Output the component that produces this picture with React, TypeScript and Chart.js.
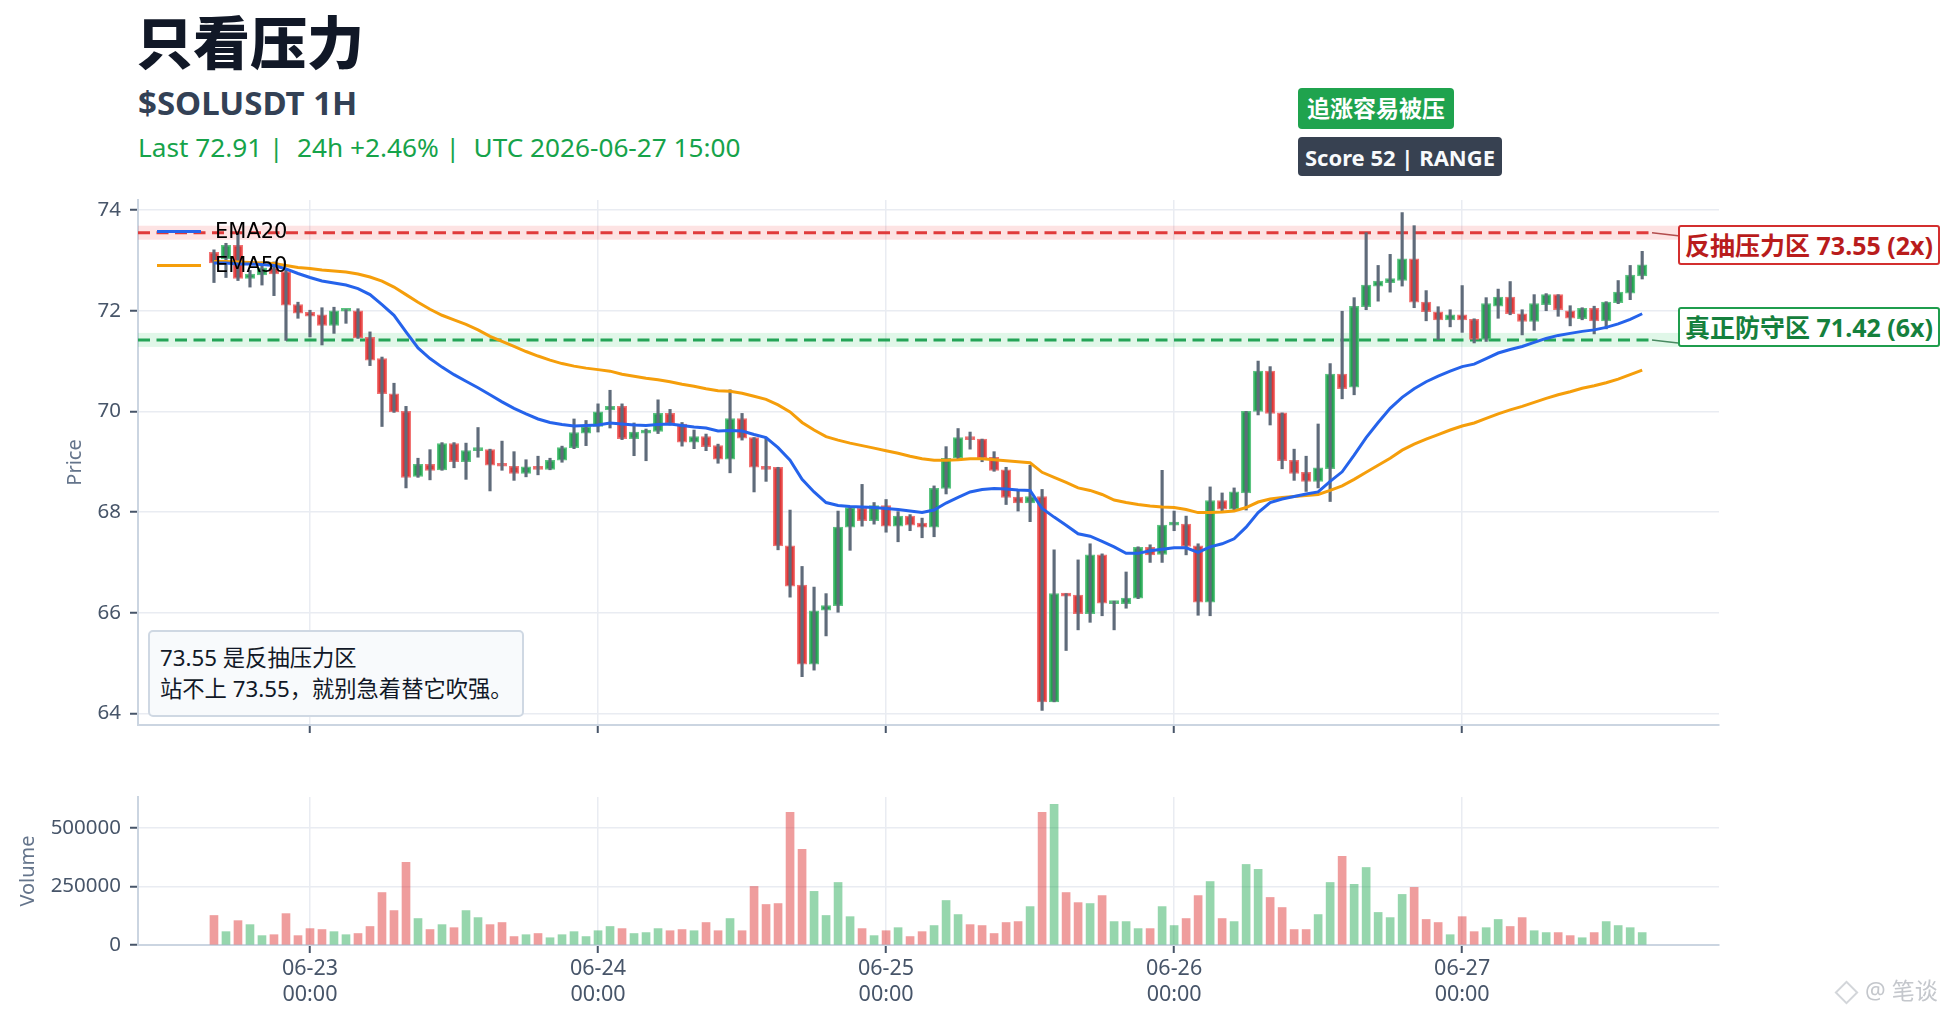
import React, { useEffect, useRef } from 'react';
import { Chart, registerables } from 'chart.js';

Chart.register(...registerables);

// ---------- data (hourly candles 06-22 16:00 .. 06-27 15:00) ----------
const OPEN = [
  73.16, 73.03, 73.30, 72.64, 72.71, 72.85, 72.78, 72.12, 71.97, 71.92,
  71.71, 71.99, 72.00, 71.47, 71.05, 70.35, 70.00, 68.71, 68.95, 68.84,
  69.36, 69.00, 69.22, 69.24, 68.95, 68.91, 68.77, 68.90, 68.85, 69.03,
  69.28, 69.57, 69.70, 70.03, 70.10, 69.46, 69.57, 69.60, 69.96, 69.75,
  69.39, 69.50, 69.32, 69.05, 69.86, 69.48, 68.89, 68.89, 67.33, 66.55,
  64.98, 66.05, 66.14, 67.70, 68.08, 67.83, 68.13, 67.72, 67.92, 67.78,
  67.70, 68.47, 69.07, 69.50, 69.45, 69.09, 68.84, 68.30, 68.18, 68.31,
  64.23, 66.38, 66.35, 65.98, 67.15, 66.18, 66.18, 66.29, 67.30, 67.16,
  67.74, 67.76, 67.33, 66.21, 68.23, 68.06, 68.38, 70.00, 70.80, 69.97,
  69.03, 68.79, 68.61, 68.86, 70.74, 70.48, 72.08, 72.49, 72.56, 72.60,
  73.03, 72.17, 71.98, 71.82, 71.92, 71.83, 71.43, 72.09, 72.27, 71.94,
  71.79, 72.12, 72.32, 72.00, 71.84, 72.05, 71.80, 72.16, 72.35, 72.69,
];
const HIGH = [
  73.21, 73.34, 73.53, 72.80, 72.97, 72.97, 72.84, 72.17, 72.01, 72.06,
  72.07, 72.02, 72.04, 71.58, 71.08, 70.56, 70.10, 69.07, 69.24, 69.38,
  69.38, 69.37, 69.68, 69.25, 69.41, 69.20, 69.04, 69.11, 69.07, 69.31,
  69.85, 69.82, 70.15, 70.42, 70.15, 69.77, 69.65, 70.23, 70.04, 69.78,
  69.63, 69.55, 69.35, 70.43, 69.96, 69.48, 69.47, 68.89, 68.04, 66.92,
  66.51, 66.38, 68.02, 68.11, 68.55, 68.19, 68.25, 68.01, 67.95, 67.88,
  68.52, 69.30, 69.66, 69.59, 69.45, 69.20, 68.89, 68.42, 68.93, 68.45,
  67.25, 66.38, 67.05, 67.37, 67.17, 66.23, 66.81, 67.31, 67.35, 68.83,
  68.02, 67.92, 67.37, 68.50, 68.38, 68.48, 70.00, 71.00, 70.89, 69.97,
  69.25, 69.11, 69.75, 70.95, 71.99, 72.26, 73.55, 72.90, 73.12, 73.95,
  73.69, 72.40, 72.08, 72.02, 72.50, 71.84, 72.26, 72.43, 72.58, 72.02,
  72.32, 72.34, 72.32, 72.10, 72.06, 72.09, 72.18, 72.60, 72.90, 73.18,
];
const LOW = [
  72.56, 72.66, 72.60, 72.47, 72.51, 72.30, 71.41, 71.85, 71.48, 71.32,
  71.55, 71.75, 71.45, 70.91, 69.70, 69.98, 68.48, 68.69, 68.64, 68.83,
  68.88, 68.65, 69.09, 68.42, 68.83, 68.63, 68.70, 68.74, 68.84, 68.99,
  69.26, 69.32, 69.59, 69.67, 69.44, 69.12, 69.02, 69.56, 69.73, 69.31,
  69.26, 69.22, 68.97, 68.78, 69.43, 68.40, 68.61, 67.25, 66.31, 64.73,
  64.86, 65.54, 66.01, 67.24, 67.72, 67.76, 67.60, 67.41, 67.63, 67.49,
  67.51, 68.36, 69.05, 69.25, 69.00, 68.81, 68.15, 68.02, 67.81, 64.06,
  64.23, 65.25, 65.66, 65.81, 65.94, 65.66, 66.09, 66.28, 67.00, 67.00,
  67.63, 67.15, 65.95, 65.94, 68.02, 68.04, 68.04, 69.93, 69.73, 68.86,
  68.63, 68.41, 68.48, 68.21, 70.25, 70.33, 72.02, 72.19, 72.37, 72.49,
  72.06, 71.80, 71.43, 71.68, 71.57, 71.36, 71.39, 71.85, 71.92, 71.52,
  71.61, 72.00, 71.89, 71.70, 71.82, 71.54, 71.64, 72.14, 72.22, 72.63,
];
const CLOSE = [
  72.95, 73.30, 72.64, 72.73, 72.85, 72.73, 72.11, 71.95, 71.89, 71.71,
  72.00, 72.01, 71.46, 71.02, 70.35, 69.99, 68.69, 68.95, 68.83, 69.36,
  69.00, 69.22, 69.24, 68.93, 68.91, 68.77, 68.90, 68.85, 69.03, 69.28,
  69.58, 69.70, 69.99, 70.10, 69.46, 69.59, 69.61, 69.96, 69.75, 69.39,
  69.50, 69.30, 69.05, 69.86, 69.47, 68.89, 68.85, 67.33, 66.53, 64.98,
  66.04, 66.14, 67.70, 68.09, 67.83, 68.13, 67.72, 67.92, 67.74, 67.70,
  68.47, 69.07, 69.48, 69.44, 69.07, 68.83, 68.29, 68.18, 68.31, 64.23,
  66.38, 66.33, 65.98, 67.15, 66.19, 66.22, 66.29, 67.30, 67.15, 67.74,
  67.77, 67.32, 66.21, 68.23, 68.06, 68.40, 70.00, 70.80, 69.96, 69.02,
  68.77, 68.61, 68.88, 70.74, 70.45, 72.09, 72.51, 72.59, 72.64, 73.03,
  72.17, 71.98, 71.82, 71.92, 71.82, 71.43, 72.14, 72.27, 71.94, 71.79,
  72.14, 72.32, 72.02, 71.85, 72.05, 71.80, 72.17, 72.37, 72.71, 72.91,
];
const VOLUME = [
  126000, 57000, 104000, 87000, 40000, 44000, 134000, 40000, 70000, 66000,
  57000, 44000, 49000, 79000, 224000, 147000, 353000, 113000, 66000, 87000,
  74000, 147000, 117000, 87000, 96000, 36000, 44000, 49000, 31000, 44000,
  57000, 36000, 61000, 79000, 70000, 49000, 53000, 70000, 61000, 66000,
  61000, 96000, 61000, 113000, 61000, 250000, 173000, 177000, 567000, 409000,
  229000, 126000, 267000, 121000, 70000, 40000, 61000, 74000, 36000, 57000,
  83000, 190000, 130000, 87000, 83000, 49000, 96000, 100000, 164000, 567000,
  601000, 224000, 181000, 177000, 211000, 100000, 100000, 70000, 70000, 164000,
  83000, 113000, 211000, 271000, 113000, 100000, 344000, 323000, 203000, 160000,
  66000, 66000, 130000, 267000, 379000, 259000, 331000, 139000, 117000, 216000,
  246000, 109000, 96000, 44000, 121000, 57000, 74000, 109000, 79000, 117000,
  61000, 53000, 53000, 40000, 31000, 53000, 100000, 83000, 74000, 53000,
];
const EMA20 = [
  72.95, 72.95, 72.93, 72.93, 72.92, 72.90, 72.83, 72.74, 72.66, 72.59,
  72.55, 72.51, 72.44, 72.32, 72.12, 71.91, 71.58, 71.26, 71.05, 70.88,
  70.73, 70.60, 70.47, 70.33, 70.19, 70.06, 69.95, 69.85, 69.78, 69.74,
  69.71, 69.72, 69.73, 69.77, 69.75, 69.73, 69.72, 69.74, 69.75, 69.72,
  69.69, 69.67, 69.61, 69.62, 69.61, 69.54, 69.48, 69.28, 69.03, 68.65,
  68.40, 68.19, 68.13, 68.11, 68.10, 68.09, 68.07, 68.05, 68.02, 67.99,
  68.04, 68.18, 68.29, 68.40, 68.45, 68.47, 68.46, 68.44, 68.43, 68.07,
  67.90, 67.74, 67.57, 67.52, 67.42, 67.31, 67.18, 67.18, 67.23, 67.26,
  67.29, 67.29, 67.20, 67.31, 67.37, 67.47, 67.70, 67.99, 68.19, 68.26,
  68.31, 68.36, 68.40, 68.61, 68.80, 69.13, 69.48, 69.78, 70.06, 70.28,
  70.45, 70.59, 70.70, 70.80, 70.89, 70.94, 71.05, 71.16, 71.23, 71.29,
  71.37, 71.45, 71.51, 71.55, 71.59, 71.62, 71.67, 71.74, 71.83, 71.94,
];
const EMA50 = [
  72.98, 72.98, 72.97, 72.96, 72.95, 72.94, 72.90, 72.86, 72.84, 72.81,
  72.79, 72.77, 72.73, 72.67, 72.59, 72.47, 72.32, 72.17, 72.03, 71.91,
  71.82, 71.73, 71.62, 71.49, 71.39, 71.29, 71.19, 71.10, 71.02, 70.95,
  70.90, 70.86, 70.83, 70.80, 70.74, 70.70, 70.66, 70.63, 70.59, 70.54,
  70.50, 70.45, 70.41, 70.40, 70.36, 70.30, 70.24, 70.13, 69.99, 69.78,
  69.63, 69.50, 69.43, 69.37, 69.32, 69.27, 69.22, 69.17, 69.11, 69.06,
  69.03, 69.03, 69.04, 69.06, 69.06, 69.04, 69.02, 69.00, 68.98, 68.79,
  68.69, 68.59, 68.48, 68.43, 68.35, 68.24, 68.19, 68.15, 68.12, 68.10,
  68.09, 68.05, 67.99, 67.99, 68.00, 68.02, 68.09, 68.20, 68.26, 68.29,
  68.31, 68.33, 68.35, 68.43, 68.52, 68.65, 68.79, 68.93, 69.07, 69.23,
  69.35, 69.45, 69.54, 69.63, 69.71, 69.77, 69.86, 69.95, 70.03, 70.10,
  70.18, 70.26, 70.33, 70.39, 70.46, 70.51, 70.57, 70.64, 70.73, 70.82,
];
const DAY_TICK_INDEX = [8, 32, 56, 80, 104];
const DAY_LABELS = ['06-23', '06-24', '06-25', '06-26', '06-27'];
const DAY_TIME = '00:00';
const PRICE_TICKS = [64, 66, 68, 70, 72, 74];
const VOLUME_TICKS = [0, 250000, 500000];
const RESISTANCE = 73.55;
const SUPPORT = 71.42;

const FONT = '"Noto Sans", "Noto Sans CJK SC", sans-serif';
const X_MIN = -6.33;
const X_MAX = 125.4;

const GRID = { color: '#e9ecf2', lineWidth: 1.5, tickLength: 8, tickColor: '#475569', tickWidth: 2, offset: false };
const BORDER = { display: true, color: '#cbd5e1', width: 2 };
const Y_TICK_FONT = { size: 20.5, family: FONT };
const X_TICK_FONT = { size: 21.5, family: FONT };

function xScale(showLabels: boolean, height: number): any {
  return {
    type: 'linear',
    min: X_MIN,
    max: X_MAX,
    offset: false,
    afterBuildTicks: (axis: any) => {
      axis.ticks = DAY_TICK_INDEX.map((v) => ({ value: v }));
    },
    afterFit: (axis: any) => {
      axis.height = height;
      axis.paddingLeft = 0;
      axis.paddingRight = 0;
    },
    ticks: {
      autoSkip: false,
      maxRotation: 0,
      minRotation: 0,
      padding: 3,
      color: '#475569',
      font: X_TICK_FONT,
      callback: (v: any) => {
        if (!showLabels) return '';
        const k = DAY_TICK_INDEX.indexOf(Number(v));
        return k >= 0 ? [DAY_LABELS[k], DAY_TIME] : '';
      },
    },
    grid: GRID,
    border: BORDER,
  };
}

function yFit(axis: any) {
  axis.width = 138;
  axis.paddingTop = 0;
  axis.paddingBottom = 0;
}

const levelsPlugin = {
  id: 'levels',
  beforeDatasetsDraw(chart: any) {
    const { ctx, chartArea, scales } = chart;
    const levels = [
      { v: RESISTANCE, line: '#e03b3b', band: 'rgba(239,68,68,0.15)', conn: 'rgba(153,27,27,0.75)' },
      { v: SUPPORT, line: '#24a457', band: 'rgba(34,197,94,0.14)', conn: 'rgba(21,101,52,0.75)' },
    ];
    ctx.save();
    levels.forEach((l) => {
      const y = scales.y.getPixelForValue(l.v);
      ctx.fillStyle = l.band;
      ctx.fillRect(chartArea.left, y - 7, 1678 - chartArea.left, 14);
      ctx.setLineDash([12, 6.5]);
      ctx.strokeStyle = l.line;
      ctx.lineWidth = 3;
      ctx.beginPath();
      ctx.moveTo(chartArea.left, y);
      ctx.lineTo(1652, y);
      ctx.stroke();
      ctx.setLineDash([]);
      ctx.strokeStyle = l.conn;
      ctx.lineWidth = 1.5;
      ctx.beginPath();
      ctx.moveTo(1652, y);
      ctx.lineTo(1678, y + 3);
      ctx.stroke();
    });
    ctx.restore();
  },
};

export default function App() {
  const priceRef = useRef<HTMLCanvasElement>(null);
  const volRef = useRef<HTMLCanvasElement>(null);

  useEffect(() => {
    Chart.defaults.font.family = FONT;
    const idx = CLOSE.map((_, i) => i);
    const up = idx.map((i) => CLOSE[i] >= OPEN[i]);

    const priceChart = new Chart(priceRef.current as HTMLCanvasElement, {
      type: 'bar',
      data: {
        datasets: [
          {
            type: 'line',
            label: 'EMA20',
            data: idx.map((i) => ({ x: i, y: EMA20[i] })),
            borderColor: '#2563eb',
            borderWidth: 3,
            pointRadius: 0,
            tension: 0,
            order: 0,
          } as any,
          {
            type: 'line',
            label: 'EMA50',
            data: idx.map((i) => ({ x: i, y: EMA50[i] })),
            borderColor: '#f59e0b',
            borderWidth: 3,
            pointRadius: 0,
            tension: 0,
            order: 1,
          } as any,
          {
            type: 'bar',
            label: 'wick',
            data: idx.map((i) => ({ x: i, y: [LOW[i], HIGH[i]] })),
            backgroundColor: '#5f6b7a',
            barThickness: 2.5,
            grouped: false,
            order: 2,
          } as any,
          {
            type: 'bar',
            label: 'body',
            data: idx.map((i) => ({ x: i, y: [OPEN[i], CLOSE[i]] })),
            backgroundColor: idx.map((i) => (up[i] ? '#22a24f' : '#de3636')),
            borderColor: idx.map((i) => (up[i] ? 'rgba(74,190,115,0.9)' : 'rgba(240,100,100,0.9)')),
            borderWidth: 1.5,
            borderSkipped: false,
            minBarLength: 3,
            barThickness: 9.5,
            grouped: false,
            order: 3,
          } as any,
        ],
      },
      options: {
        responsive: false,
        animation: false,
        events: [],
        layout: { padding: { left: 0, right: 231, top: 10, bottom: 0 } },
        plugins: { legend: { display: false }, tooltip: { enabled: false } },
        scales: {
          x: xScale(false, 25),
          y: {
            type: 'linear',
            min: 63.77,
            max: 74.2,
            afterBuildTicks: (axis: any) => {
              axis.ticks = PRICE_TICKS.map((v) => ({ value: v }));
            },
            afterFit: yFit,
            ticks: { padding: 9, color: '#475569', font: Y_TICK_FONT },
            grid: GRID,
            border: BORDER,
            title: {
              display: true,
              text: 'Price',
              color: '#64748b',
              font: { size: 20, family: FONT },
              padding: { top: 63, bottom: 0 },
            },
          } as any,
        },
      },
      plugins: [levelsPlugin],
    });

    const volChart = new Chart(volRef.current as HTMLCanvasElement, {
      type: 'bar',
      data: {
        datasets: [
          {
            label: 'Volume',
            data: idx.map((i) => ({ x: i, y: VOLUME[i] })),
            backgroundColor: idx.map((i) => (up[i] ? 'rgba(22,163,74,0.45)' : 'rgba(220,38,38,0.45)')),
            barThickness: 8,
            borderWidth: 0,
          } as any,
        ],
      },
      options: {
        responsive: false,
        animation: false,
        events: [],
        layout: { padding: { left: 0, right: 231, top: 17, bottom: 0 } },
        plugins: { legend: { display: false }, tooltip: { enabled: false } },
        scales: {
          x: xScale(true, 76),
          y: {
            type: 'linear',
            min: 0,
            max: 632000,
            afterBuildTicks: (axis: any) => {
              axis.ticks = VOLUME_TICKS.map((v) => ({ value: v }));
            },
            afterFit: yFit,
            ticks: { padding: 9, color: '#475569', font: Y_TICK_FONT, callback: (v: any) => String(v) },
            grid: GRID,
            border: BORDER,
            title: {
              display: true,
              text: 'Volume',
              color: '#64748b',
              font: { size: 20, family: FONT },
              padding: { top: 16, bottom: 0 },
            },
          } as any,
        },
      },
    });

    return () => {
      priceChart.destroy();
      volChart.destroy();
    };
  }, []);

  const abs = (s: React.CSSProperties): React.CSSProperties => ({
    position: 'absolute',
    whiteSpace: 'pre',
    lineHeight: 1,
    fontFamily: FONT,
    ...s,
  });

  return (
    <div
      style={{
        position: 'absolute',
        left: 0,
        top: 0,
        width: 1950,
        height: 1021,
        background: '#ffffff',
        overflow: 'hidden',
      }}
    >
      <canvas
        ref={priceRef}
        width={1950}
        height={560}
        style={{ position: 'absolute', left: 0, top: 190, width: 1950, height: 560 }}
      />
      <canvas
        ref={volRef}
        width={1950}
        height={241}
        style={{ position: 'absolute', left: 0, top: 780, width: 1950, height: 241 }}
      />

      {/* header */}
      <div style={abs({ left: 136, top: 14, fontSize: 57, fontWeight: 900, color: '#111827' })}>只看压力</div>
      <div style={abs({ left: 138, top: 86, fontSize: 33, fontWeight: 700, color: '#334155' })}>$SOLUSDT 1H</div>
      <div style={abs({ left: 138, top: 134, fontSize: 26.2, color: '#16a34a' })}>
        {'Last 72.91 |  24h +2.46% |  UTC 2026-06-27 15:00'}
      </div>

      {/* badges */}
      <div
        style={abs({
          left: 1298,
          top: 88,
          width: 156,
          height: 41,
          background: '#1fa34e',
          borderRadius: 4,
          color: '#ffffff',
          fontSize: 23,
          fontWeight: 700,
          display: 'flex',
          alignItems: 'center',
          justifyContent: 'center',
        })}
      >
        追涨容易被压
      </div>
      <div
        style={abs({
          left: 1298,
          top: 137,
          width: 204,
          height: 39,
          background: '#374151',
          borderRadius: 4,
          color: '#f8fafc',
          fontSize: 22,
          fontWeight: 700,
          display: 'flex',
          alignItems: 'center',
          justifyContent: 'center',
        })}
      >
        Score 52 | RANGE
      </div>

      {/* legend */}
      <div style={abs({ left: 157, top: 229.5, width: 44, height: 3, background: '#2563eb' })} />
      <div style={abs({ left: 157, top: 263.5, width: 44, height: 3, background: '#f59e0b' })} />
      <div style={abs({ left: 215, top: 221, fontSize: 21, color: '#000000', fontFamily: '"DejaVu Sans", sans-serif' })}>
        EMA20
      </div>
      <div style={abs({ left: 215, top: 255, fontSize: 21, color: '#000000', fontFamily: '"DejaVu Sans", sans-serif' })}>
        EMA50
      </div>

      {/* right level labels */}
      <div
        style={abs({
          left: 1678,
          top: 225,
          width: 262,
          height: 40,
          boxSizing: 'border-box',
          border: '2px solid #d32f2f',
          borderRadius: 3,
          background: '#ffffff',
          color: '#b91c1c',
          fontSize: 25,
          fontWeight: 700,
          display: 'flex',
          alignItems: 'center',
          justifyContent: 'center',
        })}
      >
        反抽压力区 73.55 (2x)
      </div>
      <div
        style={abs({
          left: 1678,
          top: 307,
          width: 262,
          height: 40,
          boxSizing: 'border-box',
          border: '2px solid #1f9d4d',
          borderRadius: 3,
          background: '#ffffff',
          color: '#15803d',
          fontSize: 25,
          fontWeight: 700,
          display: 'flex',
          alignItems: 'center',
          justifyContent: 'center',
        })}
      >
        真正防守区 71.42 (6x)
      </div>

      {/* note box */}
      <div
        style={abs({
          left: 148,
          top: 630,
          width: 376,
          height: 87,
          boxSizing: 'border-box',
          border: '2px solid #cfd8e3',
          borderRadius: 5,
          background: '#f8fafc',
        })}
      />
      <div style={abs({ left: 160, top: 646.5, fontSize: 22.3, color: '#111827' })}>73.55 是反抽压力区</div>
      <div style={abs({ left: 160, top: 677.5, fontSize: 22.3, color: '#111827' })}>站不上 73.55，就别急着替它吹强。</div>

      {/* watermark */}
      <div
        style={abs({
          left: 1838,
          top: 984,
          width: 13,
          height: 13,
          border: '2px solid #d3d6da',
          transform: 'rotate(45deg)',
        })}
      />
      <div style={abs({ left: 1865, top: 979, fontSize: 23, color: '#c4c7cc' })}>@ 笔谈</div>
    </div>
  );
}
